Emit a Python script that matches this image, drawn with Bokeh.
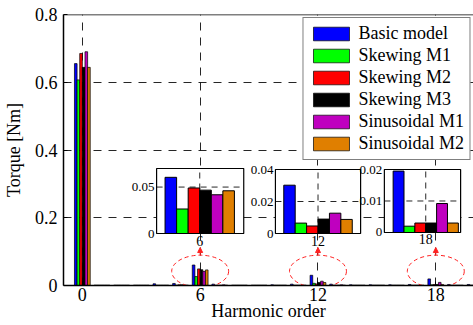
from bokeh.plotting import figure
from bokeh.models import (ColumnDataSource, FixedTicker, Span, Arrow, NormalHead, Range1d,
                          CDSView, IndexFilter)
from bokeh.core.properties import value
from bokeh.transform import dodge
from bokeh.embed import file_html
from bokeh.resources import INLINE

# ---------------- data ----------------
harmonics = list(range(21))
series_names = ["Basic model", "Skewing M1", "Skewing M2", "Skewing M3", "Sinusoidal M1", "Sinusoidal M2"]
colors = ["#0000FF", "#00FF00", "#FF0000", "#000000", "#BF00BF", "#E07F00"]

basic_model   = [0.655, 0.001, 0.001, 0.001, 0.005, 0.006, 0.0605, 0.004, 0.001, 0.001, 0.002, 0.004, 0.0302, 0.004, 0.002, 0.002, 0.002, 0.003, 0.0195, 0.003, 0.003]
skewing_m1    = [0.607, 0.001, 0.001, 0.001, 0.001, 0.001, 0.0264, 0.001, 0.001, 0.001, 0.001, 0.001, 0.0065, 0.001, 0.001, 0.001, 0.001, 0.001, 0.0020, 0.001, 0.001]
skewing_m2    = [0.685, 0.001, 0.001, 0.001, 0.001, 0.002, 0.0490, 0.001, 0.001, 0.001, 0.001, 0.001, 0.0047, 0.001, 0.001, 0.001, 0.001, 0.001, 0.0030, 0.001, 0.001]
skewing_m3    = [0.644, 0.001, 0.001, 0.001, 0.001, 0.002, 0.0467, 0.001, 0.001, 0.001, 0.001, 0.001, 0.0090, 0.001, 0.001, 0.001, 0.001, 0.001, 0.0030, 0.001, 0.001]
sinusoidal_m1 = [0.690, 0.001, 0.001, 0.001, 0.001, 0.001, 0.0417, 0.002, 0.001, 0.001, 0.001, 0.001, 0.0127, 0.002, 0.001, 0.001, 0.001, 0.001, 0.0092, 0.001, 0.001]
sinusoidal_m2 = [0.644, 0.001, 0.001, 0.001, 0.001, 0.001, 0.0460, 0.001, 0.001, 0.001, 0.001, 0.001, 0.0088, 0.001, 0.001, 0.001, 0.001, 0.001, 0.0030, 0.001, 0.001]

x_ticks = [0, 6, 12, 18]
y_ticks = [0, 0.2, 0.4, 0.6, 0.8]
y_tick_labels = ["0", "0.2", "0.4", "0.6", "0.8"]

zoom_orders = [6, 12, 18]
zoom_labels = ["6", "12", "18"]
inset_y_max = [0.07, 0.04, 0.02]
inset_y_ticks = [[0, 0.05], [0, 0.02, 0.04], [0, 0.01, 0.02]]
inset_y_labels = [["0", "0.05"], ["0", "0.02", "0.04"], ["0", "0.01", "0.02"]]

cols = ["basic_model", "skewing_m1", "skewing_m2", "skewing_m3", "sinusoidal_m1", "sinusoidal_m2"]
src = ColumnDataSource(dict(h=harmonics, basic_model=basic_model, skewing_m1=skewing_m1,
                            skewing_m2=skewing_m2, skewing_m3=skewing_m3,
                            sinusoidal_m1=sinusoidal_m1, sinusoidal_m2=sinusoidal_m2))

FONT = "Liberation Serif"
BW = 0.134
RED = "#FF2020"

# ---------------- main figure ----------------
p = figure(width=473, height=325, output_backend="svg", toolbar_location=None,
           x_range=Range1d(-0.96, 19.92), y_range=Range1d(0, 0.8),
           min_border_left=59, min_border_right=0, min_border_top=14, min_border_bottom=40)
p.outline_line_color = None
p.background_fill_color = "white"
p.border_fill_color = "white"

for i, (c, name, col) in enumerate(zip(cols, series_names, colors)):
    off = (i - 2.5) * BW
    p.vbar(x=dodge("h", off), top=c, width=BW, bottom=0, source=src,
           fill_color=col, line_color="black", line_width=0.7, legend_label=name)

p.add_layout(Span(location=0.8, dimension="width", line_color="black", line_width=1.5))

for ax in (p.xaxis, p.yaxis):
    ax.axis_line_color = "black"
    ax.axis_line_width = 1.5
    ax.major_tick_in = 4
    ax.major_tick_out = 0
    ax.minor_tick_line_color = None
    ax.major_label_text_font = FONT
    ax.major_label_text_font_size = "18px"
    ax.major_label_text_color = "black"
    ax.axis_label_text_font = FONT
    ax.axis_label_text_font_size = "18px"
    ax.axis_label_text_font_style = "normal"
    ax.axis_label_text_color = "black"

p.xaxis.ticker = FixedTicker(ticks=x_ticks)
p.yaxis.ticker = FixedTicker(ticks=y_ticks)
p.yaxis.major_label_overrides = {t: l for t, l in zip(y_ticks, y_tick_labels)}
p.xaxis.axis_label = "Harmonic order"
p.yaxis.axis_label = "Torque [Nm]"
p.xaxis.axis_label_standoff = -3
p.xaxis.major_label_standoff = 2
p.yaxis.major_label_standoff = 6
p.yaxis.axis_label_standoff = 8

for g in (p.xgrid, p.ygrid):
    g.grid_line_color = "black"
    g.grid_line_alpha = 0.85
    g.grid_line_dash = "8 7"
    g.grid_line_width = 1
p.xgrid.ticker = FixedTicker(ticks=x_ticks)
p.ygrid.ticker = FixedTicker(ticks=y_ticks)

# zoom ellipses and arrows
p.ellipse(x=zoom_orders, y=[0.042] * 3, width=2.9, height=0.095,
          fill_color=None, line_color=RED, line_dash="4 3", line_width=1)
for h in zoom_orders:
    p.add_layout(Arrow(x_start=h, y_start=0.0895, x_end=h, y_end=0.112,
                       line_color=RED, line_width=1,
                       end=NormalHead(size=5, fill_color=RED, line_color=RED)))

lg = p.legend[0]
lg.location = "top_right"
lg.margin = 3
lg.padding = 5
lg.spacing = 1
lg.glyph_width = 45
lg.glyph_height = 17
lg.label_height = 17
lg.label_standoff = 5
lg.label_text_font = FONT
lg.label_text_font_size = "18px"
lg.label_text_color = "black"
lg.border_line_color = "black"
lg.border_line_width = 1
lg.background_fill_color = "white"
lg.background_fill_alpha = 1

# ---------------- insets (sub-coordinates inside the main frame) ----------------
# placement of each inset box in the main plot's data space (x0, x1, y0, y1)
inset_boxes = [(3.781, 8.219, 0.1535, 0.3454),
               (9.833, 14.171, 0.1535, 0.3424),
               (15.381, 19.264, 0.1565, 0.3424)]
inset_x_ext = [(-0.5, 0.51), (-0.5, 0.5), (-0.51, 0.43)]

for k, h in enumerate(zoom_orders):
    bx0, bx1, by0, by1 = inset_boxes[k]
    lo, hi = inset_x_ext[k]
    xs0, xs1 = h + lo, h + hi
    ys1 = inset_y_max[k]
    sp = p.subplot(x_source=Range1d(xs0, xs1), y_source=Range1d(0, ys1),
                   x_target=Range1d(bx0, bx1), y_target=Range1d(by0, by1))
    # white box
    sp.quad(left=[xs0], right=[xs1], bottom=[0], top=[ys1],
            fill_color="white", line_color=None)
    # dashed grid
    gy = [t for t in inset_y_ticks[k] if t != 0]
    sp.segment(x0=[xs0] * len(gy), x1=[xs1] * len(gy), y0=gy, y1=gy,
               line_color="black", line_alpha=0.85, line_dash="6 5", line_width=1)
    sp.segment(x0=[h], x1=[h], y0=[0], y1=[ys1],
               line_color="black", line_alpha=0.85, line_dash="6 5", line_width=1)
    # bars of this harmonic only
    view = CDSView(filter=IndexFilter([harmonics.index(h)]))
    for i, (c, col) in enumerate(zip(cols, colors)):
        off = (i - 2.5) * BW
        sp.vbar(x=dodge("h", off), top=c, width=BW, bottom=0, source=src, view=view,
                fill_color=col, line_color="black", line_width=1)
    # box outline
    sp.quad(left=[xs0], right=[xs1], bottom=[0], top=[ys1],
            fill_color=None, line_color="black", line_width=1.2)
    # tick labels
    ty = inset_y_ticks[k]
    sp.text(x=[xs0] * len(ty), y=ty, text=inset_y_labels[k], x_offset=-2,
            text_align="right", text_baseline="middle", text_font=value(FONT),
            text_font_size="13px", text_color="black")
    sp.text(x=[h], y=[0], text=[zoom_labels[k]], y_offset=2,
            text_align="center", text_baseline="top", text_font=value(FONT),
            text_font_size="14px", text_color="black")

open("out.html", "w").write(file_html(p, INLINE))
